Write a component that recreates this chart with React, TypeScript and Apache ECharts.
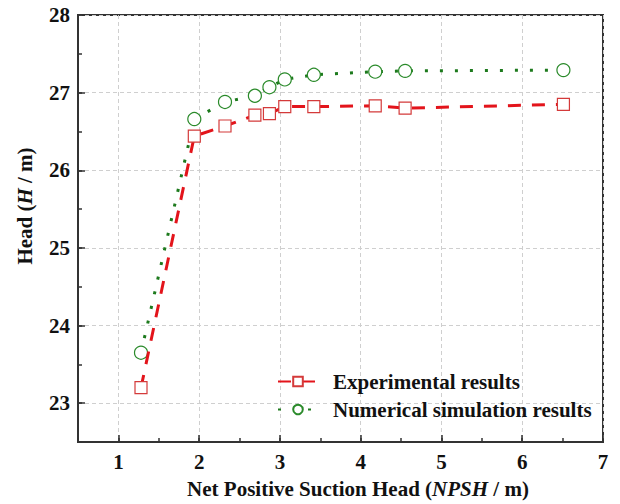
import React, { useEffect, useRef } from "react";
import * as echarts from "echarts";

const npsh = [1.28, 1.94, 2.32, 2.69, 2.87, 3.06, 3.42, 4.18, 4.55, 6.51];
const experimentalHead = [23.2, 26.44, 26.57, 26.71, 26.73, 26.82, 26.82, 26.83, 26.8, 26.85];
const simulationHead = [23.65, 26.66, 26.88, 26.96, 27.07, 27.17, 27.23, 27.27, 27.28, 27.29];
const xTickLabels = [1, 2, 3, 4, 5, 6, 7];
const yTickLabels = [23, 24, 25, 26, 27, 28];
const seriesNames = ["Experimental results", "Numerical simulation results"];

const FONT = "'Liberation Serif', 'Times New Roman', serif";
const TXT = "#111";

export default function App() {
  const ref = useRef<HTMLDivElement>(null);
  useEffect(() => {
    if (!ref.current) return;
    const chart = echarts.init(ref.current, undefined, { renderer: "svg" });
    const labelFmt = (list: number[]) => (v: number) =>
      list.some((t) => Math.abs(t - v) < 1e-6) ? "{b|" + String(Math.round(v)) + "}" : "";
    const labelRich = { b: { fontFamily: FONT, fontWeight: "bold", fontSize: 21, color: TXT } };
    chart.setOption({
      animation: false,
      backgroundColor: "#fff",
      grid: {
        left: 78, right: 17, top: 15, bottom: 62,
        show: true, borderColor: "#333", borderWidth: 2, backgroundColor: "transparent",
      },
      xAxis: [
        {
          type: "value", min: 0.5, max: 7, interval: 0.5, position: "bottom",
          axisLine: { show: true, lineStyle: { color: "#333", width: 2 } },
          axisTick: { show: true, inside: true, length: 7, customValues: xTickLabels, lineStyle: { color: "#333", width: 1.5 } },
          axisLabel: {
            fontFamily: FONT, fontWeight: "bold", fontSize: 21, color: TXT,
            margin: 9, formatter: labelFmt(xTickLabels), rich: labelRich, showMinLabel: true, showMaxLabel: true,
          },
          splitLine: { show: true, lineStyle: { color: "#cfcfcf", type: [4, 3], width: 1 } },
        },
        {
          type: "value", min: 0.5, max: 7, interval: 0.5, position: "bottom",
          axisLine: { show: false },
          axisTick: { show: true, inside: true, length: 4, lineStyle: { color: "#333", width: 1.5 } },
          axisLabel: { show: false },
          splitLine: { show: false },
        },
      ],
      yAxis: [
        {
          type: "value", min: 22.5, max: 28, interval: 0.5, position: "left",
          axisLine: { show: true, lineStyle: { color: "#333", width: 2 } },
          axisTick: { show: true, inside: true, length: 7, customValues: yTickLabels, lineStyle: { color: "#333", width: 1.5 } },
          axisLabel: {
            fontFamily: FONT, fontWeight: "bold", fontSize: 21, color: TXT,
            margin: 8, formatter: labelFmt(yTickLabels), rich: labelRich, showMinLabel: true, showMaxLabel: true,
          },
          splitLine: { show: true, lineStyle: { color: "#cfcfcf", type: [4, 3], width: 1 } },
        },
        {
          type: "value", min: 22.5, max: 28, interval: 0.5, position: "left",
          axisLine: { show: false },
          axisTick: { show: true, inside: true, length: 4, lineStyle: { color: "#333", width: 1.5 } },
          axisLabel: { show: false },
          splitLine: { show: false },
        },
      ],
      legend: {
        orient: "vertical", left: 272, top: 366,
        itemWidth: 40, itemHeight: 12, itemGap: 7,
        textStyle: { fontFamily: FONT, fontWeight: "bold", fontSize: 21, color: TXT, lineHeight: 21, padding: [0, 0, 0, 10] },
        data: seriesNames,
      },
      series: [
        {
          name: seriesNames[0], type: "line", xAxisIndex: 0, yAxisIndex: 0,
          data: npsh.map((x, i) => [x, experimentalHead[i]]),
          symbol: "rect", symbolSize: 12,
          itemStyle: { color: "#fff", borderColor: "#d43a3a", borderWidth: 1.2 },
          lineStyle: { color: "#e3141b", width: 3, type: [13, 11] },
          z: 3,
        },
        {
          name: seriesNames[1], type: "line", xAxisIndex: 0, yAxisIndex: 0,
          data: npsh.map((x, i) => [x, simulationHead[i]]),
          symbol: "circle", symbolSize: 13,
          itemStyle: { color: "#fff", borderColor: "#2a8a2a", borderWidth: 1.2 },
          lineStyle: { color: "#1d7a1d", width: 3, type: [3, 12] },
          z: 2,
        },
      ],
      graphic: [
        {
          type: "text", x: 358, y: 489,
          style: {
            text: "Net Positive Suction Head ({i|NPSH} / m)",
            fontFamily: FONT, fontWeight: "bold", fontSize: 21, fill: TXT,
            align: "center", verticalAlign: "middle",
            rich: { i: { fontFamily: FONT, fontWeight: "bold", fontStyle: "italic", fontSize: 21, fill: TXT } },
          },
        },
        {
          type: "text", x: 25, y: 206, rotation: Math.PI / 2,
          style: {
            text: "Head ({i|H} / m)",
            fontFamily: FONT, fontWeight: "bold", fontSize: 21, fill: TXT,
            align: "center", verticalAlign: "middle",
            rich: { i: { fontFamily: FONT, fontWeight: "bold", fontStyle: "italic", fontSize: 21, fill: TXT } },
          },
        },
      ],
    });
    return () => chart.dispose();
  }, []);
  return <div ref={ref} style={{ width: 620, height: 504, position: "absolute", left: 0, top: 0 }} />;
}
